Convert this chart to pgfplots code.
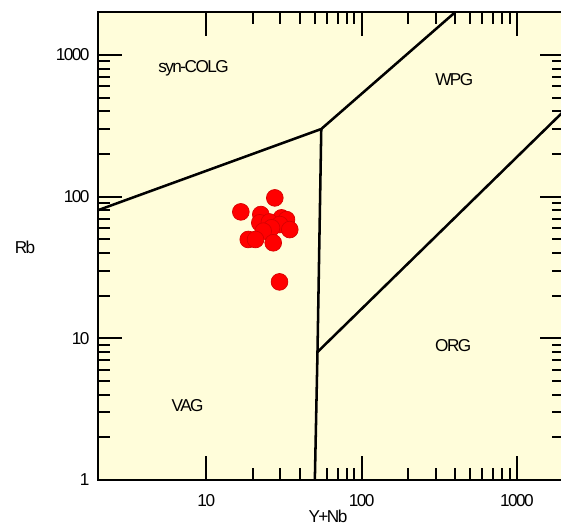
\documentclass[border=0pt]{standalone}
\usepackage{fontspec}
\setmainfont{Liberation Sans}[LetterSpace=-9]
\usepackage{pgfplots}
\pgfplotsset{compat=1.18}
\definecolor{bgyellow}{RGB}{255,253,218}
\definecolor{ptred}{RGB}{255,0,0}
\definecolor{ptedge}{RGB}{215,0,0}
\newcommand\lbl{\fontsize{12.9}{15}\selectfont}
\begin{document}
\begin{tikzpicture}
\begin{axis}[
  at={(0,0)}, anchor=south west,
  scale only axis,
  width=349.5pt, height=350.8pt,
  xmode=log, ymode=log,
  xmin=2, xmax=2000, ymin=1, ymax=2000,
  xtick={10,100,1000}, xticklabels={10,100,1000},
  ytick={1,10,100,1000}, yticklabels={1,10,100,1000},
  /pgf/number format/assume math mode=true,
  tick align=inside,
  major tick length=18pt, minor tick length=9pt,
  every tick/.style={black, line width=1.5pt},
  axis line style={black, line width=1.7pt},
  axis background/.style={fill=bgyellow},
  tick label style={font=\lbl, inner sep=0pt},
  xticklabel shift=11pt,
  yticklabel shift=6pt,
  clip=true,
]
% boundaries (Pearce et al. 1984)
\addplot[black, line width=1.9pt] coordinates {(2,80) (55,300) (400,2000)};
\addplot[black, line width=1.9pt] coordinates {(50,1) (52,8) (55,300)};
\addplot[black, line width=1.9pt] coordinates {(52,8) (2000,400)};
% samples
\addplot[only marks, mark=*, mark size=6.3pt,
  mark options={fill=ptred, draw=ptedge, line width=0.5pt}] coordinates {
  (16.69,78.0)
  (27.62,97.9)
  (22.44,74.7)
  (30.50,70.8)
  (22.11,65.3)
  (32.85,68.8)
  (25.5,66.2)
  (29.74,63.5)
  (26.30,60.2)
  (34.48,58.5)
  (23.26,57.0)
  (18.63,49.8)
  (20.75,49.8)
  (26.97,47.2)
  (29.61,25.0)
};
\node[font=\lbl] at (axis cs:8.28,808) {syn-COLG};
\node[font=\lbl] at (axis cs:395,665) {WPG};
\node[font=\lbl] at (axis cs:389,8.85) {ORG};
\node[font=\lbl] at (axis cs:7.58,3.34) {VAG};
\end{axis}
\node[font=\lbl] at (-54.5pt,174.75pt) {Rb};
\node[font=\lbl, anchor=north, inner sep=0pt] at (172.7pt,-22.5pt) {Y+Nb};
\pgfresetboundingbox
\useasboundingbox (-73.3pt,-33.75pt) rectangle (347.5pt,360pt);
\end{tikzpicture}
\end{document}
